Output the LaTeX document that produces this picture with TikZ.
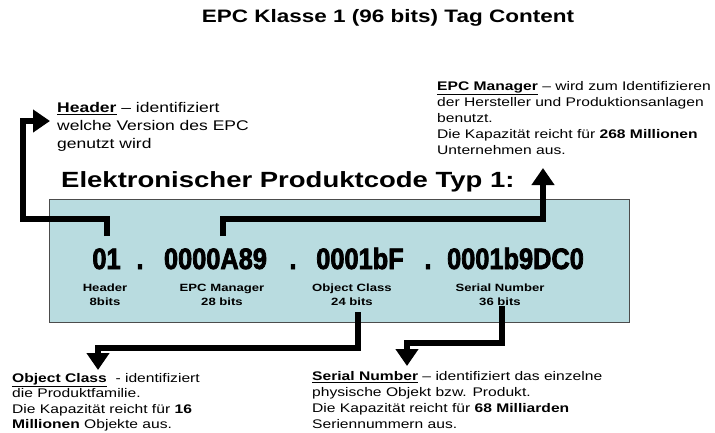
\documentclass[tikz,border=0pt]{standalone}
\usepackage{fontspec}
\setmainfont{Liberation Sans}[FakeStretch=1.25]
\newfontfamily\hexfont{Liberation Sans}[FakeStretch=0.86,BoldFeatures={FakeBold=2.5}]
\usetikzlibrary{arrows.meta}
\definecolor{boxblue}{RGB}{185,220,224}
\begin{document}
\begin{tikzpicture}[x=1pt,y=-1pt,
  arrowline/.style={line width=6pt,-{Triangle[length=17pt,width=22pt]}},
  bodytext/.style={anchor=north west,align=left,inner sep=0pt,font=\fontsize{12.5}{16}\selectfont},
  hexnum/.style={anchor=base,inner xsep=2pt,inner ysep=12pt,font=\hexfont\bfseries\fontsize{29.5}{30}\selectfont},
  fieldlabel/.style={anchor=north,align=center,inner sep=0pt,font=\bfseries\fontsize{10.5}{14}\selectfont}]
\useasboundingbox (0,0) rectangle (715,432);
\node (title) at (388,18) {\bfseries\fontsize{18}{20}\selectfont EPC Klasse 1 (96 bits) Tag Content};
\node (epcbox) [draw=black!70,fill=boxblue,minimum width=580pt,minimum height=123pt,inner sep=0pt] at (339,260.5) {};
\node (typtitle) [anchor=base west,inner sep=0pt,font=\bfseries\fontsize{22}{24}\selectfont] at (61,187) {Elektronischer Produktcode Typ 1:};
\node (hdtext) [bodytext,font=\fontsize{14}{18}\selectfont] at (57,102)
 {\underline{\textbf{Header}} – identifiziert\\welche Version des EPC\\genutzt wird};
\node (mgtext) [bodytext] at (437,81)
 {\underline{\textbf{EPC Manager}} – wird zum Identifizieren\\der Hersteller und Produktionsanlagen\\benutzt.\\Die Kapazität reicht für \textbf{268 Millionen}\\Unternehmen aus.};
\node (octext) [bodytext,font=\fontsize{12.5}{15.5}\selectfont] at (12,373)
 {\underline{\textbf{Object Class}}\ \ - identifiziert\\die Produktfamilie.\\Die Kapazität reicht für \textbf{16}\\\textbf{Millionen} Objekte aus.};
\node (srtext) [bodytext] at (312,371)
 {\underline{\textbf{Serial Number}} – identifiziert das einzelne\\physische Objekt bzw. Produkt.\\Die Kapazität reicht für \textbf{68 Milliarden}\\Seriennummern aus.};
\node (hdnum) [hexnum] at (106.5,269) {01};
\node (dot1) [hexnum] at (140,269) {.};
\node (mgnum) [hexnum] at (215.5,269) {0000A89};
\node (dot2) [hexnum] at (293,269) {.};
\node (ocnum) [hexnum] at (360,269) {0001bF};
\node (dot3) [hexnum] at (428,269) {.};
\node (srnum) [hexnum] at (515.5,269) {0001b9DC0};
\node (hdlabel) [fieldlabel] at (105,284) {Header\\8bits};
\node (mglabel) [fieldlabel] at (222,284) {EPC Manager\\28 bits};
\node (oclabel) [fieldlabel] at (352,284) {Object Class\\24 bits};
\node (srlabel) [fieldlabel] at (500,284) {Serial Number\\36 bits};
\coordinate (hdbend) at (23,219);
\coordinate (hdtip) at (50,121);
\coordinate (mgbend) at (543,219);
\coordinate (mgtip) at (543,168);
\coordinate (ocbend) at (98,348);
\coordinate (octip) at (98,370);
\coordinate (srbend) at (407,343);
\coordinate (srtip) at (407,366);
\draw[arrowline] (hdnum.north) |- (hdbend) |- (hdtip);
\draw[arrowline] ([xshift=7pt]mgnum.north) |- (mgbend) -- (mgtip);
\draw[arrowline] ([xshift=6pt,yshift=-6pt]oclabel.south) |- (ocbend) -- (octip);
\draw[arrowline] ([xshift=2pt]srlabel.south) |- (srbend) -- (srtip);
\end{tikzpicture}
\end{document}
